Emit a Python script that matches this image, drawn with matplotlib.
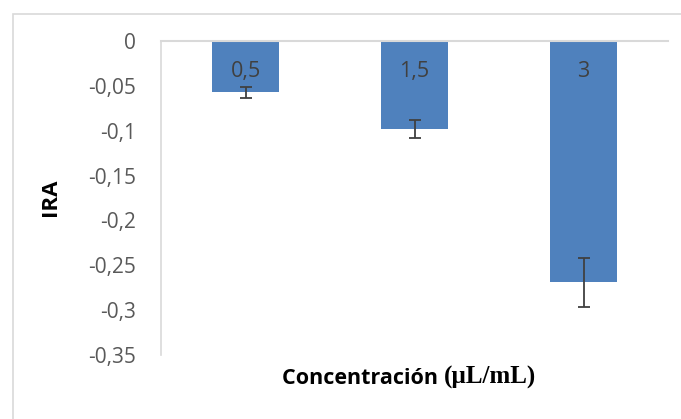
import matplotlib
matplotlib.use("Agg")
import matplotlib.pyplot as plt
from matplotlib.patches import Rectangle
from matplotlib.ticker import FixedLocator, FixedFormatter

categories = ["0,5", "1,5", "3"]
values = [-0.057, -0.098, -0.269]
errors = [0.006, 0.010, 0.027]
ytick_values = [0, -0.05, -0.1, -0.15, -0.2, -0.25, -0.3, -0.35]
ytick_labels = ["0", "-0,05", "-0,1", "-0,15", "-0,2", "-0,25", "-0,3", "-0,35"]

sans = ["Open Sans", "DejaVu Sans"]
plt.rcParams['font.family'] = sans

fig = plt.figure(figsize=(6.81, 4.19), dpi=100)
fig.patches.append(Rectangle((13/681, -0.1), 1.2, 1 - 14/419 + 0.1,
                             transform=fig.transFigure, fill=False,
                             edgecolor="#d9d9d9", linewidth=1.2))

ax = fig.add_axes([161/681, 1 - 355/419, (668 - 161)/681, (355 - 41)/419])
x = list(range(len(categories)))
ax.bar(x, values, width=0.4, color="#4f81bd", zorder=2)
ax.errorbar(x, values, yerr=errors, fmt="none", ecolor="#404040",
            elinewidth=1.3, capsize=4.5, capthick=1.3, zorder=3)

for xi, lab in zip(x, categories):
    ax.text(xi, -0.0345, lab, ha="center", va="center", fontsize=15.5,
            color="#404040", zorder=4)

ax.set_xlim(-0.5, 2.5)
ax.set_ylim(-0.35, 0)
ax.yaxis.set_major_locator(FixedLocator(ytick_values))
ax.yaxis.set_major_formatter(FixedFormatter(ytick_labels))
ax.set_xticks([])
ax.tick_params(axis="y", length=0, pad=18, labelsize=15, labelcolor="#595959")

for s in ["right", "bottom"]:
    ax.spines[s].set_visible(False)
ax.spines["left"].set_color("#d9d9d9")
ax.spines["left"].set_linewidth(1.2)
ax.spines["top"].set_color("#d9d9d9")
ax.spines["top"].set_linewidth(1.5)

fig.text(51/681, 1 - 197/419, "IRA", rotation=90, ha="center", va="center",
         fontsize=16, fontweight="bold", color="black")

t1 = fig.text(282/681, 1 - 378/419, "Concentración ", ha="left", va="center",
              fontsize=15.5, fontweight="bold", color="black")
ax.annotate("(µL/mL)", xy=(1, 0), xycoords=t1, ha="left", va="bottom",
            fontsize=18, fontweight="bold", color="black",
            family=["Liberation Serif", "DejaVu Serif"], annotation_clip=False)

fig.savefig("out.png", dpi=100)
